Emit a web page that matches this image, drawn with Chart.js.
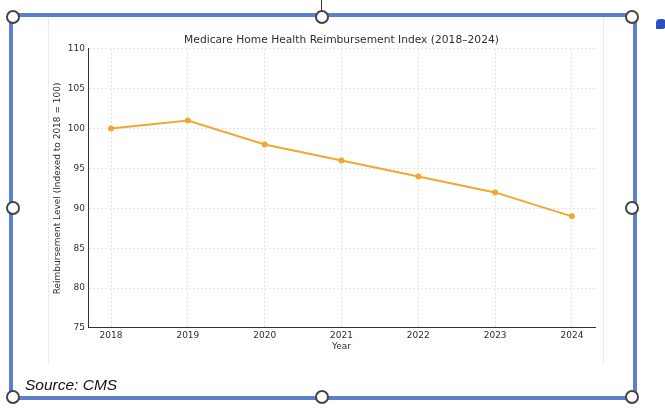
<!DOCTYPE html>
<html>
<head>
<meta charset="utf-8">
<script src="https://cdn.jsdelivr.net/npm/chart.js@4/dist/chart.umd.min.js"></script>
<style>
  html, body { margin: 0; padding: 0; background: #fff; }
  body { width: 665px; height: 409px; position: relative; overflow: hidden; }
  #chart { position: absolute; left: 0; top: 0; }
  .frame { position: absolute; left: 9px; top: 13px; width: 620px; height: 379px;
           border: 4px solid #5b7fca; }
  .edge { position: absolute; top: 18px; width: 1px; height: 347px; background: #ececec; }
  .handle { position: absolute; width: 10px; height: 10px; border-radius: 50%;
            border: 2px solid #444; background: #fff; }
  .stem { position: absolute; left: 321px; top: 0; width: 1px; height: 12px; background: #333; }
  .bubble { position: absolute; left: 656px; top: 19px; width: 10px; height: 10px;
            background: #2d50c0; border-radius: 4px 4px 4px 0; }
  .source { position: absolute; left: 25px; top: 376px; font: italic 15.5px "Liberation Sans", Arial, sans-serif;
            color: #111; }
</style>
</head>
<body>
<div class="edge" style="left:48px"></div>
<div class="edge" style="left:603px"></div>
<canvas id="chart" width="665" height="409"></canvas>
<div class="source">Source: CMS</div>
<div class="frame"></div>
<div class="stem"></div>
<div class="handle" style="left:6px;top:10px"></div>
<div class="handle" style="left:315px;top:10px"></div>
<div class="handle" style="left:625px;top:10px"></div>
<div class="handle" style="left:6px;top:201px"></div>
<div class="handle" style="left:625px;top:201px"></div>
<div class="handle" style="left:6px;top:390px"></div>
<div class="handle" style="left:315px;top:390px"></div>
<div class="handle" style="left:625px;top:390px"></div>
<div class="bubble"></div>
<script>
// data
var years = [2018, 2019, 2020, 2021, 2022, 2023, 2024];
var reimbursement = [100, 101, 98, 96, 94, 92, 89];
var yTicks = [75, 80, 85, 90, 95, 100, 105, 110];

var points = years.map(function (y, i) { return { x: y, y: reimbursement[i] }; });
var textColor = "#2e2e2e";
var tickFont = { family: "DejaVu Sans", size: 9 };

var ctx = document.getElementById("chart").getContext("2d");
var myChart = new Chart(ctx, {
  type: "line",
  data: {
    datasets: [
      {
        label: "Reimbursement Index",
        data: points,
        borderColor: "#f0a830",
        backgroundColor: "#f0a830",
        borderWidth: 2,
        pointRadius: 3,
        pointBorderWidth: 0,
        tension: 0,
      },
    ],
  },
  options: {
    responsive: false,
    animation: false,
    layout: { padding: { left: 48, right: 70, top: 34, bottom: 41 } },
    plugins: {
      legend: { display: false },
      tooltip: { enabled: false },
      title: {
        display: true,
        fullSize: false,
        text: "Medicare Home Health Reimbursement Index (2018\u20132024)",
        color: textColor,
        font: { family: "DejaVu Sans", size: 10.7, weight: "normal" },
        padding: { top: 0, bottom: 2 },
      },
    },
    scales: {
      x: {
        type: "linear",
        min: 2017.7,
        max: 2024.3,
        afterBuildTicks: function (s) { s.ticks = years.map(function (v) { return { value: v }; }); },
        afterFit: function (s) { s.height = 40; },
        ticks: { color: textColor, font: tickFont, padding: 2, maxRotation: 0,
                 callback: function (v) { return String(v); } },
        grid: { color: "#e2e2e2", drawTicks: false },
        border: { display: true, color: "#333", width: 1, dash: [2, 2] },
        title: { display: true, text: "Year", color: textColor, font: tickFont,
                 padding: { top: 0, bottom: 15.5 } },
      },
      y: {
        min: 75,
        max: 110,
        afterBuildTicks: function (s) { s.ticks = yTicks.map(function (v) { return { value: v }; }); },
        afterFit: function (s) { s.width = 40; },
        ticks: { color: textColor, font: tickFont, padding: 3 },
        grid: { color: "#e2e2e2", drawTicks: false },
        border: { display: true, color: "#333", width: 1, dash: [2, 2] },
        title: { display: true, text: "Reimbursement Level (Indexed to 2018 = 100)", color: textColor,
                 font: tickFont, padding: { top: 4.6, bottom: 0 } },
      },
    },
  },
});
</script>
</body>
</html>
